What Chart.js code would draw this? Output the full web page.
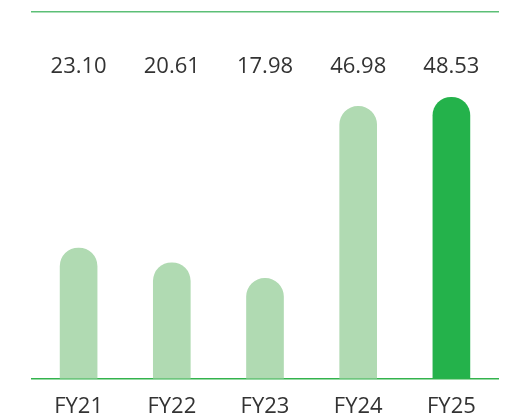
<!DOCTYPE html>
<html>
<head>
<meta charset="utf-8">
<script src="https://cdn.jsdelivr.net/npm/chart.js@4"></script>
<style>
html,body{margin:0;padding:0;background:#fff;}
#wrap{width:507px;height:418px;}
</style>
</head>
<body>
<div id="wrap"><canvas id="c" width="507" height="418"></canvas></div>
<script>
const categories = ["FY21", "FY22", "FY23", "FY24", "FY25"];
const values = [23.10, 20.61, 17.98, 46.98, 48.53];
const barColors = ["#b0dab2", "#b0dab2", "#b0dab2", "#b0dab2", "#24b24b"];

const valueLabels = {
  id: 'valueLabels',
  afterDatasetsDraw(chart) {
    const ctx = chart.ctx;
    const meta = chart.getDatasetMeta(0);
    ctx.save();
    ctx.font = '22px "Open Sans", sans-serif';
    ctx.fillStyle = '#333333';
    ctx.textAlign = 'center';
    ctx.textBaseline = 'middle';
    meta.data.forEach((bar, i) => {
      ctx.fillText(values[i].toFixed(2), bar.x, 67);
    });
    ctx.restore();
  }
};

new Chart(document.getElementById('c'), {
  type: 'bar',
  data: {
    labels: categories,
    datasets: [{
      data: values,
      backgroundColor: barColors,
      borderWidth: 0,
      borderSkipped: 'bottom',
      borderRadius: {topLeft: 19, topRight: 19, bottomLeft: 0, bottomRight: 0},
      barThickness: 37
    }]
  },
  options: {
    responsive: false,
    animation: false,
    layout: {padding: {left: 32, right: 9, top: 4, bottom: -9}},
    plugins: {legend: {display: false}, tooltip: {enabled: false}},
    scales: {
      y: {display: false, min: 1.08, max: 62.9},
      x: {
        position: 'bottom',
        grid: {display: false},
        border: {display: true, color: '#33b34d', width: 1.5},
        ticks: {color: '#333333', font: {family: '"Open Sans", sans-serif', size: 22}, padding: 7}
      },
      x2: {
        position: 'top',
        type: 'category',
        labels: categories,
        grid: {display: false},
        ticks: {display: false},
        border: {display: true, color: '#5cbf76', width: 1.5}
      }
    }
  },
  plugins: [valueLabels]
});
</script>
</body>
</html>
